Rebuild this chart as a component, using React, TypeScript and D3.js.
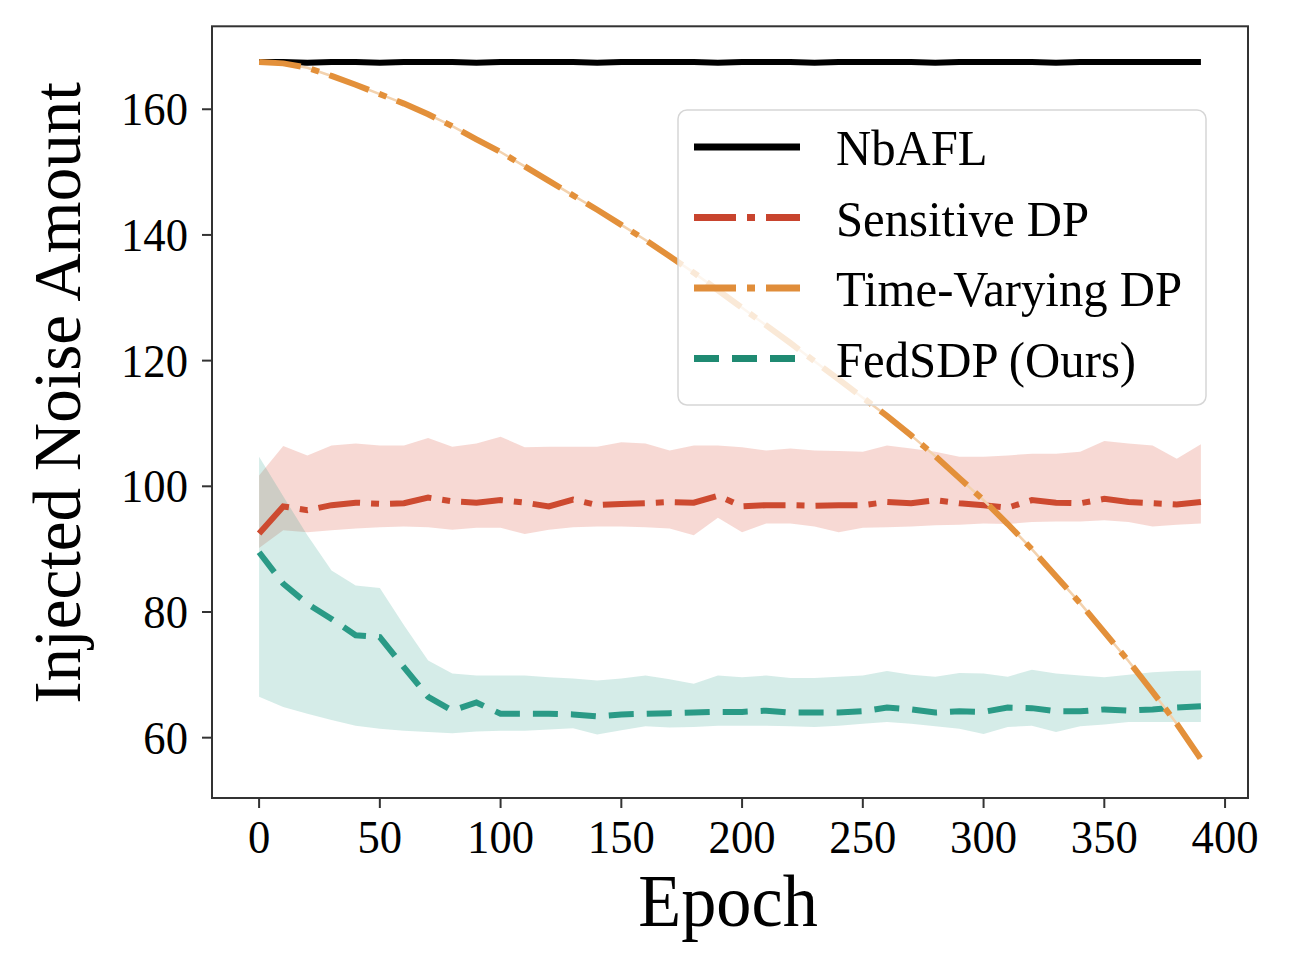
import * as d3 from 'd3';

// epochs sampled every 10 rounds
const EPOCHS = [0, 10, 20, 30, 40, 50, 60, 70, 80, 90, 100, 110, 120, 130, 140, 150, 160, 170, 180, 190,
  200, 210, 220, 230, 240, 250, 260, 270, 280, 290, 300, 310, 320, 330, 340, 350, 360, 370, 380, 390];

const NBAFL = [167.5, 167.5, 167.4, 167.5, 167.5, 167.4, 167.5, 167.5, 167.5, 167.4, 167.5, 167.5, 167.5, 167.5, 167.4, 167.5, 167.5, 167.5, 167.5, 167.4,
  167.5, 167.5, 167.5, 167.4, 167.5, 167.5, 167.5, 167.5, 167.4, 167.5, 167.5, 167.5, 167.5, 167.4, 167.5, 167.5, 167.5, 167.5, 167.5, 167.5];

const SENS_MEAN = [92.5, 96.8, 96.2, 97.0, 97.4, 97.2, 97.3, 98.2, 97.6, 97.4, 97.8, 97.4, 96.8, 97.9, 97.0, 97.2, 97.3, 97.5, 97.4, 98.5,
  96.8, 97.0, 97.0, 96.9, 97.0, 97.0, 97.5, 97.3, 97.8, 97.3, 97.0, 96.6, 97.8, 97.4, 97.3, 98.0, 97.5, 97.3, 97.1, 97.5];
const SENS_UPPER = [101.7, 106.4, 104.9, 106.5, 106.8, 106.5, 106.5, 107.7, 106.3, 106.8, 107.9, 106.2, 106.3, 106.3, 106.3, 107.0, 106.8, 105.7, 106.5, 106.5,
  106.2, 105.7, 106.0, 105.7, 105.6, 105.5, 106.5, 106.0, 105.5, 104.7, 104.7, 104.9, 105.2, 105.2, 105.5, 107.2, 106.8, 106.5, 104.4, 106.7];
const SENS_LOWER = [90.2, 93.0, 92.7, 93.0, 93.3, 93.5, 93.6, 93.5, 93.1, 93.4, 93.4, 92.4, 93.1, 93.5, 93.6, 93.6, 93.5, 93.3, 92.2, 95.0,
  92.7, 94.1, 94.1, 93.6, 92.7, 93.4, 93.5, 93.6, 93.8, 93.9, 94.1, 94.0, 94.3, 94.4, 94.4, 94.6, 94.3, 93.6, 93.9, 94.1];

const TIME_VARYING = [167.5, 167.3, 166.6, 165.3, 163.9, 162.4, 160.9, 159.2, 157.3, 155.2, 153.2, 150.9, 148.6, 146.3, 144.0, 141.6, 139.2, 136.6, 134.0, 131.2,
  128.4, 125.6, 122.8, 119.9, 117.0, 114.1, 111.2, 108.1, 104.8, 101.3, 97.8, 94.0, 90.0, 85.7, 81.4, 76.8, 72.2, 67.3, 62.2, 56.6];

const FEDSDP_MEAN = [89.5, 84.5, 81.3, 78.9, 76.3, 76.0, 71.2, 66.5, 64.3, 65.6, 63.8, 63.8, 63.8, 63.7, 63.4, 63.7, 63.8, 63.9, 64.0, 64.1,
  64.1, 64.3, 64.0, 64.0, 64.0, 64.2, 64.8, 64.5, 64.0, 64.2, 64.1, 64.8, 64.7, 64.2, 64.2, 64.5, 64.3, 64.5, 64.8, 65.0];
const FEDSDP_UPPER = [104.7, 98.4, 92.2, 86.6, 84.2, 83.8, 77.9, 72.3, 70.2, 69.9, 69.9, 69.9, 69.6, 69.4, 69.1, 69.4, 69.9, 69.3, 68.6, 69.9,
  69.6, 69.9, 69.5, 69.5, 69.7, 69.9, 70.6, 70.0, 69.7, 70.3, 70.2, 69.7, 70.8, 70.2, 69.9, 69.6, 70.0, 70.4, 70.6, 70.7];
const FEDSDP_LOWER = [66.5, 64.9, 63.8, 62.8, 61.9, 61.4, 61.1, 60.9, 60.7, 61.0, 61.1, 61.1, 61.3, 61.5, 60.5, 61.2, 61.8, 61.6, 61.7, 61.9,
  61.9, 61.9, 61.8, 61.7, 61.9, 62.2, 62.5, 62.2, 61.8, 61.4, 60.6, 61.7, 61.9, 60.9, 61.8, 62.1, 62.5, 62.5, 62.5, 62.5];

const X_TICKS = [0, 50, 100, 150, 200, 250, 300, 350, 400];
const Y_TICKS = [60, 80, 100, 120, 140, 160];

const LEGEND = [
  { label: 'NbAFL', color: '#000000', dash: 'none' },
  { label: 'Sensitive DP', color: '#c8442e', dash: '42 11 8 11' },
  { label: 'Time-Varying DP', color: '#e08d3a', dash: '42 11 8 11' },
  { label: 'FedSDP (Ours)', color: '#1f8a72', dash: '25 13' },
];

const FONT = '"Liberation Serif", "Times New Roman", serif';
const SQUEEZE = 0.95;

export default function App() {
  const width = 1300;
  const height = 970;
  const x = d3.scaleLinear().domain([-19.5, 409.5]).range([212, 1248]);
  const y = d3.scaleLinear().domain([50.4, 173.2]).range([798, 26.3]);

  const pts = (vals: number[]) => EPOCHS.map((e, i) => [e, vals[i]] as [number, number]);
  const line = d3.line<[number, number]>().x(d => x(d[0])).y(d => y(d[1]));
  const band = (lo: number[], hi: number[]) =>
    d3.area<number>().x(d => x(d)).y0((_, i) => y(lo[i])).y1((_, i) => y(hi[i]))(EPOCHS) || '';

  const [x0, x1] = x.range();
  const [y0, y1] = y.range();

  return (
    <svg width={width} height={height} style={{ position: 'absolute', left: 0, top: 0, background: '#fff' }}
      fontFamily={FONT}>
      {/* confidence bands */}
      <path d={band(SENS_LOWER, SENS_UPPER)} fill="#d9533a" fillOpacity={0.22} />
      <path d={band(FEDSDP_LOWER, FEDSDP_UPPER)} fill="#2e9e8c" fillOpacity={0.2} />

      <path d={line(pts(SENS_MEAN)) || ''} fill="none" stroke="#cd4a30" strokeWidth={6} strokeDasharray="42 11 8 11" />
      <path d={line(pts(FEDSDP_MEAN)) || ''} fill="none" stroke="#2a9a86" strokeWidth={6} strokeDasharray="25 13" />
      <path d={line(pts(NBAFL)) || ''} fill="none" stroke="#000" strokeWidth={6} />
      <path d={line(pts(TIME_VARYING)) || ''} fill="none" stroke="#f3d2ae" strokeWidth={2.5} />
      <path d={line(pts(TIME_VARYING)) || ''} fill="none" stroke="#e3903a" strokeWidth={6} strokeDasharray="42 11 8 11" />

      {/* legend */}
      <rect x={678} y={110} width={528} height={295} rx={9} fill="#fff" fillOpacity={0.8} stroke="#d6d6d6" strokeWidth={1.5} />
      {LEGEND.map((d, i) => {
        const ly = 147 + i * 70.5;
        return (
          <g key={d.label}>
            <line x1={694} x2={800} y1={ly} y2={ly} stroke={d.color} strokeWidth={7} strokeDasharray={d.dash} />
            <text transform={`translate(836,${ly + 18}) scale(0.975,1)`} fontSize={50} fill="#000">{d.label}</text>
          </g>
        );
      })}

      {/* frame */}
      <rect x={x0} y={y1} width={x1 - x0} height={y0 - y1} fill="none" stroke="#333" strokeWidth={2} />

      {/* x axis */}
      {X_TICKS.map(t => (
        <g key={`x${t}`}>
          <line x1={x(t)} x2={x(t)} y1={y0} y2={y0 + 10} stroke="#333" strokeWidth={2} />
          <text transform={`translate(${x(t)},853) scale(${SQUEEZE},1)`} textAnchor="middle" fontSize={47} fill="#000">{t}</text>
        </g>
      ))}
      {/* y axis */}
      {Y_TICKS.map(t => (
        <g key={`y${t}`}>
          <line x1={x0 - 10} x2={x0} y1={y(t)} y2={y(t)} stroke="#333" strokeWidth={2} />
          <text transform={`translate(188,${y(t)}) scale(${SQUEEZE},1)`} dy="0.34em" textAnchor="end" fontSize={47} fill="#000">{t}</text>
        </g>
      ))}

      <text transform={`translate(728,926) scale(${SQUEEZE},1)`} textAnchor="middle" fontSize={74} fill="#000">Epoch</text>
      <text transform="translate(80,393) rotate(-90)" textAnchor="middle" fontSize={67} fill="#000">Injected Noise Amount</text>
    </svg>
  );
}
